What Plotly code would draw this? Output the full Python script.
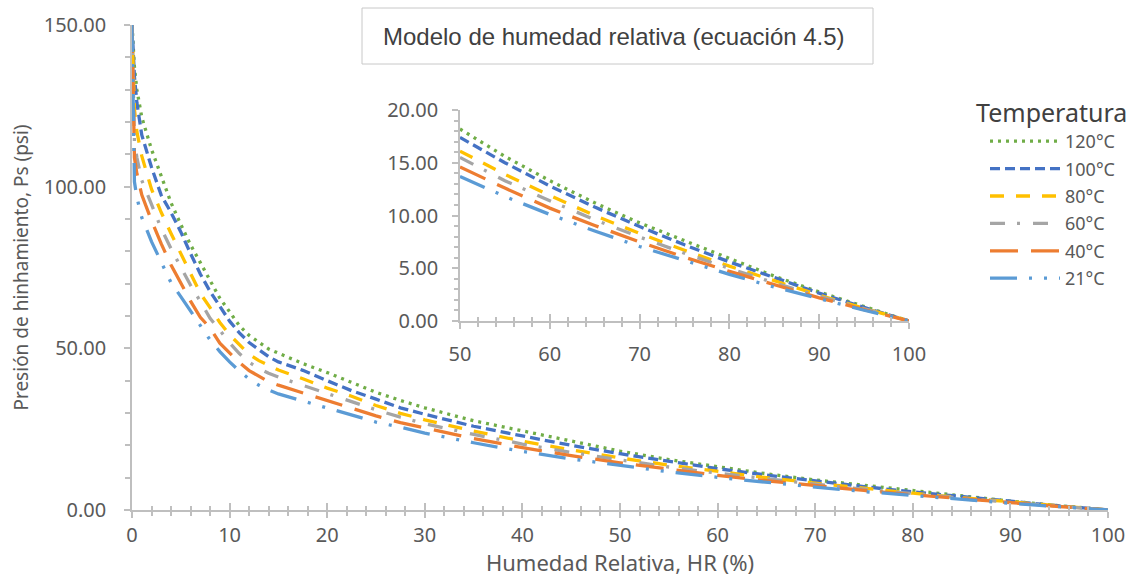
import plotly.graph_objects as go

# ---------------- data ----------------
hr = [0, 0.25, 0.5, 1, 2, 3, 4, 5, 6, 7, 8, 9, 10, 11, 12, 13, 14, 15,
      17.5, 20, 22.5, 25, 27.5, 30, 35, 40, 45, 50, 55, 60, 65, 70, 75,
      80, 85, 90, 95, 100]

ps_120 = [150, 137, 130, 121.5, 111.5, 103.5, 95, 88.3, 82, 76.5, 70.8, 65.5,
          61.3, 57, 54, 51.8, 49.8, 48.5, 45.3, 42.5, 39.5, 36.4, 33.9, 31.6,
          27.6, 24.5, 21.4, 18.2, 15.6, 13.3, 11.2, 9.3, 7.6, 5.9, 4.25, 2.75,
          1.35, 0]
ps_100 = [150, 134, 126, 116, 106, 97.3, 92, 86, 79.3, 73, 67.6, 62.8, 58.4,
          54.8, 51.8, 49.6, 47.4, 45.8, 43.2, 40, 36.9, 34.3, 31.6, 29.6, 25.9,
          22.9, 20, 17.4, 15, 12.8, 10.8, 8.95, 7.22, 5.6, 4.08, 2.64, 1.29, 0]
ps_80 = [150, 124, 117, 109.5, 99.2, 92, 85.5, 79.4, 73, 67, 62.6, 58, 54.2,
         51, 48.1, 46.2, 44.7, 43.3, 40.6, 37.7, 35.2, 32.3, 29.9, 27.9, 24.4,
         21.3, 18.6, 16.1, 13.9, 11.9, 10.0, 8.3, 6.7, 5.2, 3.8, 2.45, 1.2, 0]
ps_60 = [150, 114, 109, 102, 94.5, 87, 80.8, 75.1, 69.5, 64.5, 59.3, 55.6,
         51.7, 48.4, 45.7, 43.8, 42.3, 41.1, 38.5, 36.1, 33.5, 31, 28.7, 26.7,
         23.4, 20.4, 17.8, 15.5, 13.3, 11.4, 9.6, 7.96, 6.42, 4.98, 3.62, 2.35,
         1.14, 0]
ps_40 = [150, 109, 104, 97.5, 89.5, 82.3, 75.8, 70, 64.6, 59.6, 56.3, 51.6,
         48.5, 45.6, 43.1, 41.3, 39.7, 38.6, 36.2, 33.8, 31.4, 29.1, 27, 25.3,
         22.1, 19.3, 16.8, 14.6, 12.6, 10.7, 9.05, 7.5, 6.05, 4.7, 3.42, 2.2,
         1.08, 0]
ps_21 = [150, 101.5, 96.7, 90.5, 83, 76.5, 70.3, 66, 61.4, 57, 52.6, 49, 45.8,
         43, 40.5, 38.6, 37.1, 35.9, 33.7, 31.6, 29.3, 27.2, 25.6, 23.8, 20.8,
         18.1, 15.8, 13.7, 11.8, 10.1, 8.53, 7.06, 5.7, 4.42, 3.22, 2.09, 1.02, 0]

series_names = ["120°C", "100°C", "80°C", "60°C", "40°C", "21°C"]
series_values = [ps_120, ps_100, ps_80, ps_60, ps_40, ps_21]

main_xticks = list(range(0, 101, 10))
main_yticks = [0, 50, 100, 150]
inset_xticks = list(range(50, 101, 10))
inset_yticks = [0, 5, 10, 15, 20]

# ---------------- styles ----------------
colors = ["#70AD47", "#4472C4", "#FFC000", "#A5A5A5", "#ED7D31", "#5B9BD5"]
dashes = ["3px,5px", "10px,5px", "14px,12px", "15px,12px,3px,13px",
          "28px,13px", "27px,12px,3px,12px,3px,12px"]
LW = 3.3
TXT = "#595959"
AX = "#BFBFBF"
FONT = "Noto Sans"

W, H = 1133, 577
L, R, T, B = 132, 25, 25, 67
PW, PH = W - L - R, H - T - B


def px(xp):
    return (xp - L) / PW


def py(yp):
    return (H - B - yp) / PH


fig = go.Figure()
for name, vals, c, d in zip(series_names, series_values, colors, dashes):
    fig.add_trace(go.Scatter(
        x=hr, y=vals, mode="lines", name=name, legendgroup=name,
        line=dict(color=c, width=LW, dash=d), xaxis="x", yaxis="y"))
for name, vals, c, d in zip(series_names, series_values, colors, dashes):
    xs = [a for a in hr if a >= 50]
    ys = [v for a, v in zip(hr, vals) if a >= 50]
    fig.add_trace(go.Scatter(
        x=xs, y=ys, mode="lines", name=name, showlegend=False,
        line=dict(color=c, width=LW, dash=d), xaxis="x2", yaxis="y2"))

# helper (empty) traces so the overlay axes that draw the inner half of the
# crossing tick marks are rendered
fig.add_trace(go.Scatter(x=[None], y=[None], xaxis="x3", yaxis="y",
                         showlegend=False, hoverinfo="skip"))
fig.add_trace(go.Scatter(x=[None], y=[None], xaxis="x4", yaxis="y2",
                         showlegend=False, hoverinfo="skip"))


def axis_common(size=20):
    return dict(showline=True, linecolor=AX, linewidth=1.5, ticks="outside",
                tickcolor=AX, tickwidth=1.5, ticklen=6, showgrid=False,
                zeroline=False, automargin=False,
                tickfont=dict(family=FONT, size=size, color=TXT))


def minor(dt, ln=4, where="outside"):
    return dict(dtick=dt, ticks=where, ticklen=ln, tickcolor=AX,
                tickwidth=1.5)


def inner_ticks(rng, dom, anchor, over, vals):
    return dict(range=rng, domain=dom, anchor=anchor, overlaying=over,
                tickvals=vals, ticks="inside", ticklen=7, tickcolor=AX,
                tickwidth=1.5, showticklabels=False, showline=False,
                showgrid=False, zeroline=False, automargin=False,
                minor=minor(2, 4, "inside"))


fig.update_layout(
    width=W, height=H, autosize=False,
    margin=dict(l=L, r=R, t=T, b=B, autoexpand=False),
    paper_bgcolor="white", plot_bgcolor="rgba(0,0,0,0)",
    font=dict(family=FONT, color=TXT),
    xaxis=dict(range=[0, 100], domain=[0, 1], anchor="y", tickvals=main_xticks,
               minor=minor(2), ticklabelstandoff=0,
               title=dict(text="Humedad Relativa, HR (%)", standoff=6,
                          font=dict(family=FONT, size=22, color=TXT)),
               **axis_common()),
    yaxis=dict(range=[0, 150], domain=[0, 1], anchor="x", tickvals=main_yticks,
               tickformat=".2f", minor=minor(10, 5), ticklabelstandoff=14,
               title=dict(text="Presión de hinhamiento, Ps (psi)", standoff=10,
                          font=dict(family=FONT, size=19, color=TXT)),
               **axis_common()),
    xaxis2=dict(range=[50, 100], domain=[px(460), px(909)], anchor="y2",
                tickvals=inset_xticks, minor=minor(2), ticklabelstandoff=8,
                **axis_common()),
    yaxis2=dict(range=[0, 20], domain=[py(321), py(110)], anchor="x2",
                tickvals=inset_yticks, tickformat=".2f", minor=minor(1),
                ticklabelstandoff=10,
                **axis_common()),
    xaxis3=inner_ticks([0, 100], [0, 1], "y", "x", main_xticks),
    xaxis4=inner_ticks([50, 100], [px(460), px(909)], "y2", "x2", inset_xticks),
    showlegend=True,
    legend=dict(x=px(985), y=py(123), xanchor="left", yanchor="top",
                font=dict(family=FONT, size=18, color=TXT),
                bgcolor="rgba(0,0,0,0)", tracegroupgap=1,
                itemwidth=70),
    shapes=[dict(type="rect", xref="paper", yref="paper",
                 x0=px(362), x1=px(873), y0=py(64), y1=py(8),
                 line=dict(color="#C8C8C8", width=1), fillcolor="white",
                 layer="below")],
    annotations=[
        dict(text="Modelo de humedad relativa (ecuación 4.5)", xref="paper",
             yref="paper", x=px(381), y=py(36), xanchor="left",
             yanchor="middle", showarrow=False,
             font=dict(family="Liberation Sans", size=24, color="#404040")),
        dict(text="Temperatura", xref="paper", yref="paper", x=px(974),
             y=py(112), xanchor="left", yanchor="middle", showarrow=False,
             font=dict(family=FONT, size=25, color="#404040")),
    ],
)

fig.write_html("out.html")
